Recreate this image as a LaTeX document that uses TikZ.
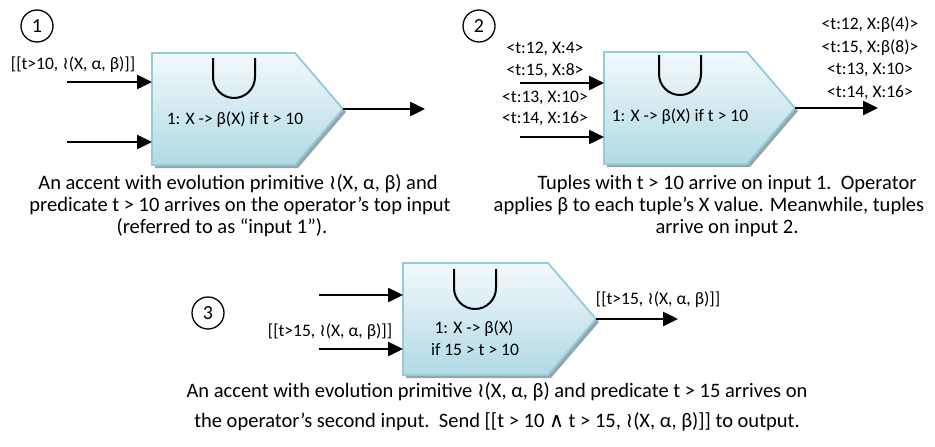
\documentclass[tikz,border=0pt]{standalone}
\usepackage{fontspec}
\setmainfont{Carlito}
\newfontfamily\dvfont{DejaVu Sans}
\usetikzlibrary{arrows.meta}
\definecolor{boxtop}{RGB}{243,249,251}
\definecolor{boxbot}{RGB}{176,218,229}
\definecolor{boxedge}{RGB}{146,205,221}
\definecolor{shadowc}{RGB}{158,164,166}
\newcommand\wrg{{\dvfont\char"2240}}
\newcommand\andg{{\dvfont\char"2227}}
% operator shape: #1 = left x, #2 = top y, #3 = rect width
\newcommand\opshape[3]{%
  \fill[shadowc] (#1+3,#2+3) -- ++(#3,0) -- ++(48,56) -- ++(-48,56) -- ++(-#3,0) -- cycle;
  \path[top color=boxtop, bottom color=boxbot, draw=boxedge, line width=1.8pt, line join=miter]
    (#1,#2) -- ++(#3,0) -- ++(48,56) -- ++(-48,56) -- ++(-#3,0) -- cycle;
}
% union symbol: #1 = centre x, #2 = top y
\newcommand\cupsym[2]{%
  \draw[line width=2pt] (#1-21,#2) -- (#1-21,#2+19) arc[start angle=180, end angle=0, radius=21] -- (#1+21,#2);
}
\begin{document}
\begin{tikzpicture}[x=1pt,y=-1pt,
  arr/.style={line width=2.5pt, -{Triangle[length=15pt,width=14pt]}},
  lbl/.style={font=\fontsize{17.5}{19}\selectfont, inner sep=0pt, text height=12.5pt, text depth=4pt},
  boxtxt/.style={font=\fontsize{17.5}{19}\selectfont, inner sep=0pt, text height=12.5pt, text depth=4pt},
  captxt/.style={font=\fontsize{20.5}{22}\selectfont, inner sep=0pt, text height=14.5pt, text depth=5pt},
  num/.style={circle, draw, line width=1.3pt, minimum size=32pt, inner sep=0pt, font=\fontsize{20}{22}\selectfont}]
\useasboundingbox (0,0) rectangle (935,447);

% ---------------- panel 1 ----------------
\node[num] (n1) at (37,26) {1};
\opshape{152}{53}{143}
\cupsym{234}{58}
\node[boxtxt] (t1) at (235,120) {1: X -> β(X) if t > 10};
\coordinate (a1s) at (67,82);   \coordinate (a1e) at (152,82);
\coordinate (a2s) at (67,142);  \coordinate (a2e) at (152,142);
\coordinate (o1s) at (343,109); \coordinate (o1e) at (425,109);
\draw[arr] (a1s) -- (a1e);
\draw[arr] (a2s) -- (a2e);
\draw[arr] (o1s) -- (o1e);
\node[lbl] (l1) at (73,65) {[[t>10, \wrg(X, α, β)]]};
\node[captxt] (c11) at (238,185) {An accent with evolution primitive \wrg(X, α, β) and};
\node[captxt] (c12) at (240,207) {predicate t > 10 arrives on the operator’s top input};
\node[captxt] (c13) at (222,229) {(referred to as “input 1”).};

% ---------------- panel 2 ----------------
\node[num] (n2) at (479,26) {2};
\opshape{604}{52}{143}
\cupsym{680}{55}
\node[boxtxt] (t2) at (680,117) {1: X -> β(X) if t > 10};
\coordinate (b1s) at (520,83);  \coordinate (b1e) at (604,83);
\coordinate (b2s) at (520,137); \coordinate (b2e) at (604,137);
\coordinate (o2s) at (795,108); \coordinate (o2e) at (878,108);
\draw[arr] (b1s) -- (b1e);
\draw[arr] (b2s) -- (b2e);
\draw[arr] (o2s) -- (o2e);
\node[lbl] (i21) at (545,49)  {<t:12, X:4>};
\node[lbl] (i22) at (545,71)  {<t:15, X:8>};
\node[lbl] (i23) at (545,98)  {<t:13, X:10>};
\node[lbl] (i24) at (545,119) {<t:14, X:16>};
\node[lbl] (p21) at (870,25) {<t:12, X:β(4)>};
\node[lbl] (p22) at (870,48) {<t:15, X:β(8)>};
\node[lbl] (p23) at (870,70) {<t:13, X:10>};
\node[lbl] (p24) at (870,93) {<t:14, X:16>};
\node[captxt] (c21) at (727,185) {Tuples with t > 10 arrive on input 1.\ \ Operator};
\node[captxt] (c22) at (709,207) {applies β to each tuple’s X value. Meanwhile, tuples};
\node[captxt] (c23) at (727,229) {arrive on input 2.};

% ---------------- panel 3 ----------------
\node[num] (n3) at (208,313) {3};
\opshape{403}{263}{145}
\cupsym{475}{269}
\node[boxtxt] (t31) at (474,329) {1: X -> β(X)};
\node[boxtxt] (t32) at (475,351) {if 15 > t > 10};
\coordinate (d1s) at (319,295); \coordinate (d1e) at (403,295);
\coordinate (d2s) at (319,349); \coordinate (d2e) at (403,349);
\coordinate (o3s) at (596,319); \coordinate (o3e) at (678,319);
\draw[arr] (d1s) -- (d1e);
\draw[arr] (d2s) -- (d2e);
\draw[arr] (o3s) -- (o3e);
\node[lbl] (l31) at (330,332) {[[t>15, \wrg(X, α, β)]]};
\node[lbl] (l32) at (658,300) {[[t>15, \wrg(X, α, β)]]};
\node[captxt] (c31) at (497,393) {An accent with evolution primitive \wrg(X, α, β) and predicate t > 15 arrives on};
\node[captxt] (c32) at (497,423) {the operator’s second input.\ \ Send [[t > 10 \andg{} t > 15, \wrg(X, α, β)]] to output.};
\end{tikzpicture}
\end{document}
